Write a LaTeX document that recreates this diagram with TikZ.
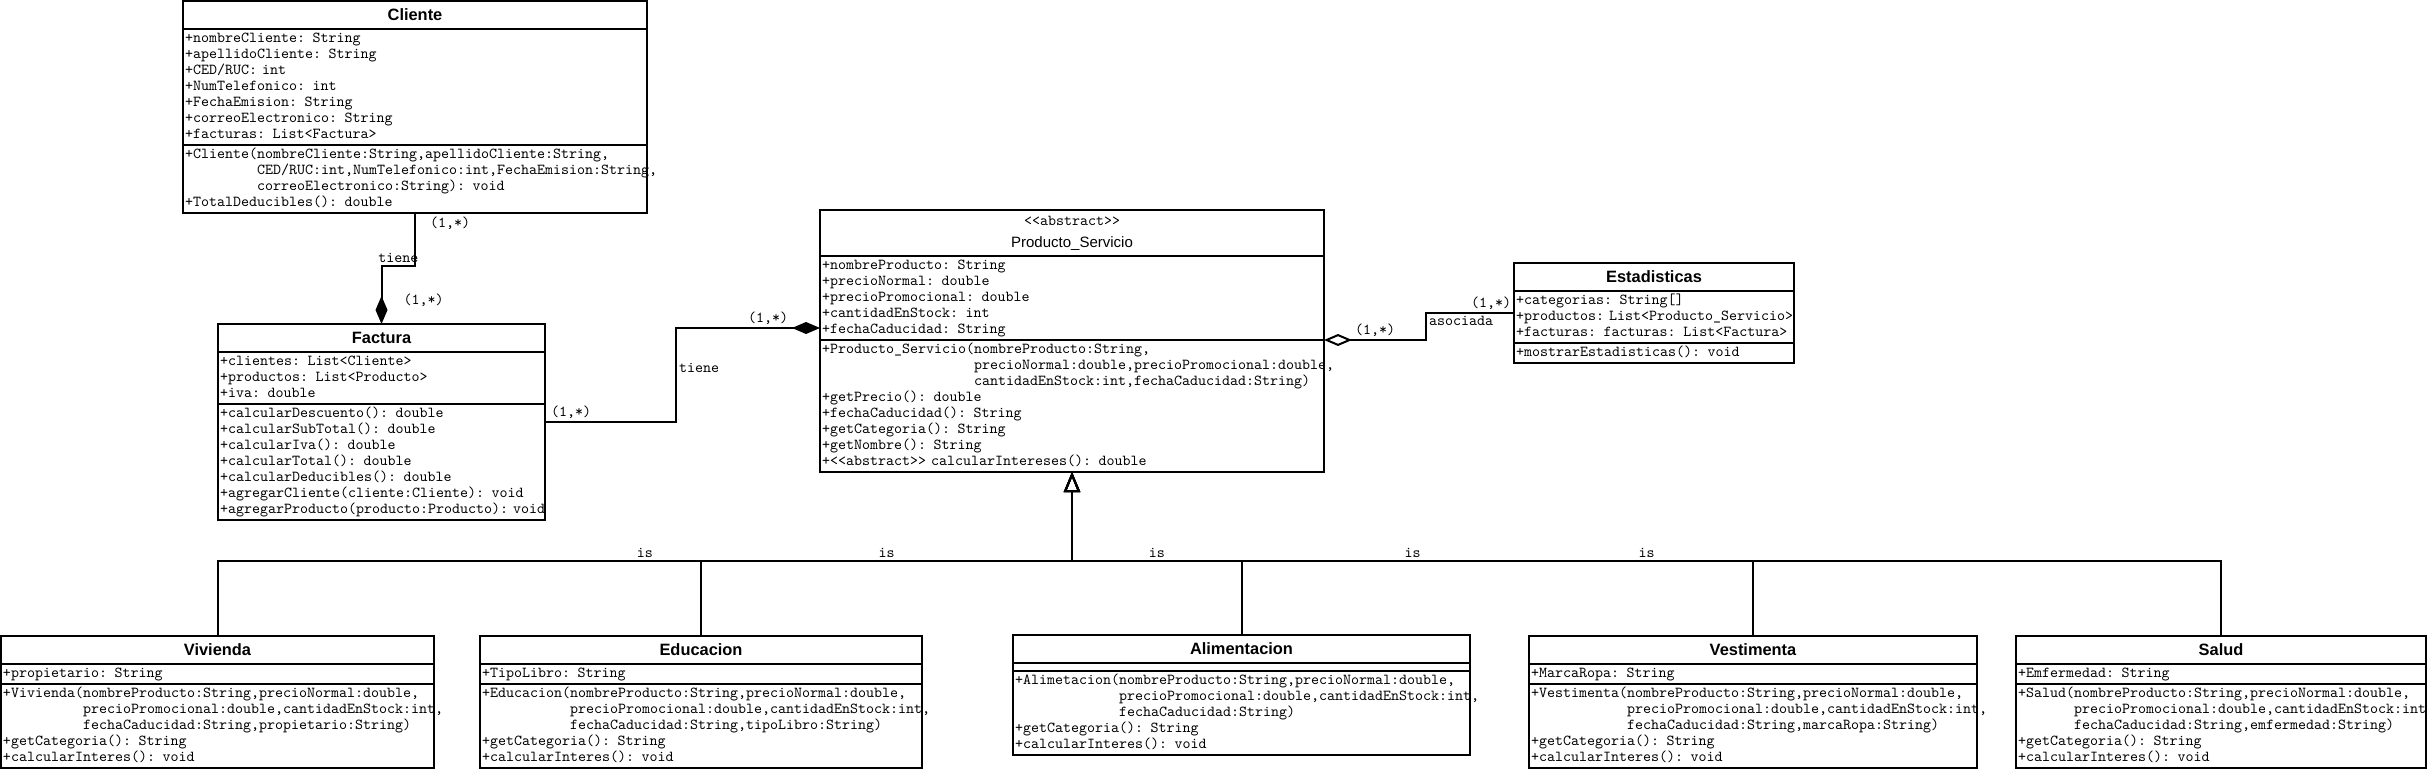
\documentclass[tikz,border=0pt]{standalone}
\usepackage{fontspec}
\newfontfamily\umlmono[WordSpace={1,0,0},HyphenChar=None]{lmmono10-regular.otf}
\newfontfamily\umlsans{Liberation Sans}
\newcommand{\umltxt}{\umlmono\fontsize{7.62}{8}\selectfont}
\newcommand{\umlhd}{\umlsans\bfseries\fontsize{8.2}{10}\selectfont}
\setlength{\parindent}{0pt}
\usetikzlibrary{arrows.meta,positioning}

\begin{document}
\begin{tikzpicture}[x=0.5pt, y=-0.5pt, line width=1pt]
\useasboundingbox (0,0) rectangle (2428,769);

\tikzstyle{hd} = [rectangle, draw=black, minimum height=14pt, inner sep=1pt, outer sep=0pt, align=center, font=\umlhd]
\tikzstyle{compart} = [rectangle, draw=black, inner sep=1pt, outer sep=0pt, align=left, font=\umltxt, execute at begin node=\strut, execute at end node=\strut]
\tikzstyle{vacio} = [rectangle, draw=black, inner xsep=1pt, inner ysep=0pt, outer sep=0pt, minimum height=4pt]
\tikzstyle{lbl} = [font=\umltxt, inner sep=1pt]
\tikzstyle{gen} = [-{Triangle[open, length=10pt, width=8pt]}]
\tikzstyle{comp} = [{Diamond[length=14pt, width=6pt]}-]
\tikzstyle{agg} = [{Diamond[open, length=14pt, width=6pt]}-]

% Cliente
\node (cli) [hd, text width=230pt, anchor=north] at (415,1) {Cliente};
\node (clia) [compart, text width=230pt, below=0pt of cli] {+nombreCliente: String\\+apellidoCliente: String\\+CED/RUC: int\\+NumTelefonico: int\\+FechaEmision: String\\+correoElectronico: String\\+facturas: List<Factura>};
\node (clim) [compart, text width=230pt, below=0pt of clia] {+Cliente(nombreCliente:String,apellidoCliente:String,\\\hphantom{+Cliente(}CED/RUC:int,NumTelefonico:int,FechaEmision:String,\\\hphantom{+Cliente(}correoElectronico:String): void\\+TotalDeducibles(): double};

% Factura
\node (fac) [hd, text width=161.5pt, anchor=north] at (381.5,324) {Factura};
\node (faca) [compart, text width=161.5pt, below=0pt of fac] {+clientes: List<Cliente>\\+productos: List<Producto>\\+iva: double};
\node (facm) [compart, text width=161.5pt, below=0pt of faca] {+calcularDescuento(): double\\+calcularSubTotal(): double\\+calcularIva(): double\\+calcularTotal(): double\\+calcularDeducibles(): double\\+agregarCliente(cliente:Cliente): void\\+agregarProducto(producto:Producto):~void};

% Producto_Servicio
\node (ps) [hd, text width=250pt, minimum height=23pt, font=\umlsans\fontsize{7.5}{11}\selectfont, anchor=north] at (1072,210) {{\umltxt <{}<abstract>{}>}\\Producto\_Servicio};
\node (psa) [compart, text width=250pt, below=0pt of ps] {+nombreProducto: String\\+precioNormal: double\\+precioPromocional: double\\+cantidadEnStock: int\\+fechaCaducidad: String};
\node (psm) [compart, text width=250pt, below=0pt of psa] {+Producto\_Servicio(nombreProducto:String,\\\hphantom{+Producto\_Servicio(}precioNormal:double,precioPromocional:double,\\\hphantom{+Producto\_Servicio(}cantidadEnStock:int,fechaCaducidad:String)\\+getPrecio(): double\\+fechaCaducidad(): String\\+getCategoria(): String\\+getNombre(): String\\+<{}<abstract>{}> calcularIntereses(): double};

% Estadisticas
\node (est) [hd, text width=138pt, anchor=north] at (1654,263) {Estadisticas};
\node (esta) [compart, text width=138pt, below=0pt of est] {+categorias: String[]\\+productos:~List<Producto\_Servicio>\\+facturas: facturas: List<Factura>};
\node (estm) [compart, text width=138pt, below=0pt of esta] {+mostrarEstadisticas(): void};

% subclases
\node (viv) [hd, text width=214.5pt, anchor=north] at (217.5,636) {Vivienda};
\node (viva) [compart, text width=214.5pt, below=0pt of viv] {+propietario: String};
\node (vivm) [compart, text width=214.5pt, below=0pt of viva] {+Vivienda(nombreProducto:String,precioNormal:double,\\\hphantom{+Vivienda(}precioPromocional:double,cantidadEnStock:int,\\\hphantom{+Vivienda(}fechaCaducidad:String,propietario:String)\\+getCategoria(): String\\+calcularInteres(): void};

\node (edu) [hd, text width=219pt, anchor=north] at (701,636) {Educacion};
\node (edua) [compart, text width=219pt, below=0pt of edu] {+TipoLibro: String};
\node (edum) [compart, text width=219pt, below=0pt of edua] {+Educacion(nombreProducto:String,precioNormal:double,\\\hphantom{+Educacion(}precioPromocional:double,cantidadEnStock:int,\\\hphantom{+Educacion(}fechaCaducidad:String,tipoLibro:String)\\+getCategoria(): String\\+calcularInteres(): void};

\node (ali) [hd, text width=226.5pt, anchor=north] at (1241.5,635) {Alimentacion};
\node (alia) [vacio, text width=226.5pt, below=0pt of ali] {};
\node (alim) [compart, text width=226.5pt, below=0pt of alia] {+Alimetacion(nombreProducto:String,precioNormal:double,\\\hphantom{+Alimetacion(}precioPromocional:double,cantidadEnStock:int,\\\hphantom{+Alimetacion(}fechaCaducidad:String)\\+getCategoria(): String\\+calcularInteres(): void};

\node (ves) [hd, text width=222pt, anchor=north] at (1753,636) {Vestimenta};
\node (vesa) [compart, text width=222pt, below=0pt of ves] {+MarcaRopa: String};
\node (vesm) [compart, text width=222pt, below=0pt of vesa] {+Vestimenta(nombreProducto:String,precioNormal:double,\\\hphantom{+Vestimenta(}precioPromocional:double,cantidadEnStock:int,\\\hphantom{+Vestimenta(}fechaCaducidad:String,marcaRopa:String)\\+getCategoria(): String\\+calcularInteres(): void};

\node (sal) [hd, text width=203pt, anchor=north] at (2221,636) {Salud};
\node (sala) [compart, text width=203pt, below=0pt of sal] {+Emfermedad: String};
\node (salm) [compart, text width=203pt, below=0pt of sala] {+Salud(nombreProducto:String,precioNormal:double,\\\hphantom{+Salud(}precioPromocional:double,cantidadEnStock:int\\\hphantom{+Salud(}fechaCaducidad:String,emfermedad:String)\\+getCategoria(): String\\+calcularInteres(): void};

% relaciones
\draw[comp] (fac.north) -- ++(0,-58) node[lbl, pos=0.41, right=9.5pt] {(1,*)}
  -| node[lbl, pos=0.25, above] {tiene} node[lbl, pos=0.9, right=6pt] {(1,*)} (clim.south);
\draw[comp] ([yshift=6pt]psa.south west) -- ++(-144,0) node[lbl, pos=0.36, above] {(1,*)}
  |- node[lbl, pos=0.21, right] {tiene} node[lbl, pos=0.9, above] {(1,*)} ([yshift=-9pt]facm.north east);
\draw[agg] (psa.south east) -- ++(102,0) node[lbl, pos=0.5, above] {(1,*)}
  |- node[lbl, pos=0.5, anchor=north west] {asociada} node[lbl, pos=0.87, above] {(1,*)} ([yshift=2pt]esta.west);

\coordinate (isbar) at (1072,561);
\draw[gen] (viv.north) |- node[lbl, pos=0.75, above] {is} (isbar) -- (psm.south);
\draw[gen] (edu.north) |- node[lbl, pos=0.75, above] {is} (isbar) -- (psm.south);
\draw[gen] (ali.north) |- node[lbl, pos=0.75, above] {is} (isbar) -- (psm.south);
\draw[gen] (ves.north) |- node[lbl, pos=0.75, above] {is} (isbar) -- (psm.south);
\draw[gen] (sal.north) |- node[lbl, pos=0.75, above] {is} (isbar) -- (psm.south);
\end{tikzpicture}
\end{document}
